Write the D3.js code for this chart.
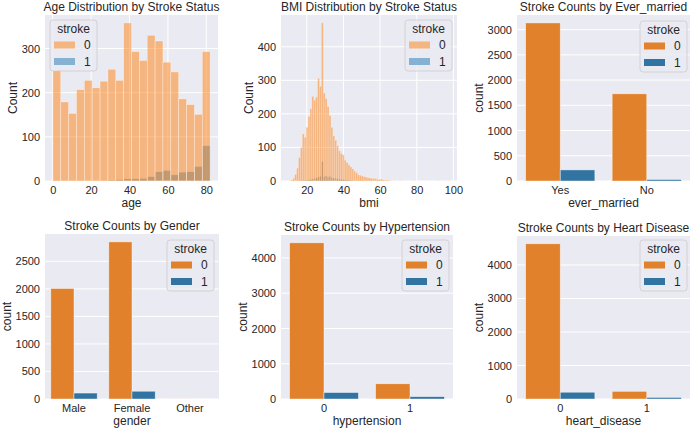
<!DOCTYPE html>
<html>
<head>
<meta charset="utf-8">
<script src="https://cdn.jsdelivr.net/npm/d3@7"></script>
<style>
  body { margin: 0; background: #fff; }
  text { font-family: "Liberation Sans", Arial, sans-serif; fill: #262626; }
</style>
</head>
<body>
<svg id="chart" width="692" height="431"></svg>
<script>
// ---- data ----
const strokeLevels = ["0", "1"]

// age histogram, 20 bins between min and max age
const ageMin = 0.08, ageMax = 82
const ageCounts0 = [250, 179, 153, 207, 228, 211, 226, 253, 228, 358, 293, 273, 330, 317, 269, 247, 186, 173, 151, 293]
const ageCounts1 = [1, 0, 0, 1, 0, 0, 1, 2, 3, 5, 5, 6, 10, 21, 24, 14, 20, 21, 33, 80]
const ageXTicks = [0, 20, 40, 60, 80]
const ageYTicks = [0, 100, 200, 300]

// bmi histogram, 84 bins between min and max bmi
const bmiMin = 10.3, bmiMax = 97.6
const bmiCounts0 = [1, 3, 8, 20, 38, 70, 100, 140, 130, 160, 192, 215, 252, 242, 250, 306, 282, 471, 262, 245,
  222, 195, 160, 135, 122, 105, 90, 82, 78, 62, 55, 48, 42, 36, 30, 25, 19, 17, 15, 13,
  12, 10, 9, 8, 7, 8, 5, 4, 6, 3, 2, 3, 2, 1, 0, 1, 0, 0, 1, 0,
  0, 0, 0, 0, 0, 1, 0, 0, 0, 0, 0, 0, 0, 0, 0, 0, 0, 0, 1, 0, 0, 0, 0, 1]
const bmiCounts1 = [0, 0, 0, 0, 0, 0, 1, 1, 2, 2, 3, 5, 6, 8, 10, 12, 14, 58, 13, 15,
  12, 14, 10, 9, 8, 7, 5, 5, 4, 3, 3, 2, 2, 1, 1, 0, 1, 0, 1, 0,
  0, 0, 1, 0, 0, 0, 1, 0, 0, 0, 0, 0, 0, 0, 0, 0, 0, 0, 0, 0,
  0, 0, 0, 0, 0, 0, 0, 0, 0, 0, 0, 0, 0, 0, 0, 0, 0, 0, 0, 0, 0, 0, 0, 0]
const bmiXTicks = [20, 40, 60, 80, 100]
const bmiYTicks = [0, 100, 200, 300, 400]

// count plots
const marriedCats = ["Yes", "No"]
const married0 = [3133, 1728]
const married1 = [220, 29]
const marriedYTicks = [0, 500, 1000, 1500, 2000, 2500, 3000]

const genderCats = ["Male", "Female", "Other"]
const gender0 = [2007, 2853, 1]
const gender1 = [108, 141, 0]
const genderYTicks = [0, 500, 1000, 1500, 2000, 2500]

const hyperCats = ["0", "1"]
const hyper0 = [4429, 432]
const hyper1 = [183, 66]
const hyperYTicks = [0, 1000, 2000, 3000, 4000]

const heartCats = ["0", "1"]
const heart0 = [4632, 229]
const heart1 = [202, 47]
const heartYTicks = [0, 1000, 2000, 3000, 4000]

// ---- drawing ----
const svg = d3.select("#chart")
const font = '"Liberation Sans", Arial, sans-serif'
const histColors = ["#ff7f0e", "#1f77b4"]
const barColors = ["#e1812c", "#3274a1"]

function frame(o) {
  let [l, t, r, b] = o.box
  let g = svg.append("g")

  g.append("rect")
    .attr("x", l).attr("y", t)
    .attr("width", r - l).attr("height", b - t)
    .attr("fill", "#eaeaf2")

  let y = d3.scaleLinear().domain([0, o.ymax * 1.05]).range([b, t])

  g.selectAll(".hgrid").data(o.yTicks).join("line")
    .attr("x1", l).attr("x2", r)
    .attr("y1", d => y(d)).attr("y2", d => y(d))
    .attr("stroke", "#fff").attr("stroke-width", 1)

  let yAxis = g.append("g")
    .attr("transform", `translate(${l},0)`)
    .call(d3.axisLeft(y).tickValues(o.yTicks).tickSize(0).tickPadding(5).tickFormat(d3.format("d")))
  yAxis.select(".domain").remove()
  yAxis.attr("font-size", 11).attr("font-family", font).attr("color", "#262626")

  let tickW = d3.max(yAxis.selectAll("text").nodes(), n => n.getComputedTextLength())

  g.append("text")
    .attr("transform", `translate(${l - 5 - tickW - 4.5},${(t + b) / 2}) rotate(-90)`)
    .attr("text-anchor", "middle")
    .attr("font-size", 12)
    .text(o.ylabel)

  g.append("text")
    .attr("x", (l + r) / 2).attr("y", b + 26)
    .attr("text-anchor", "middle")
    .attr("font-size", 12)
    .text(o.xlabel)

  g.append("text")
    .attr("x", (l + r) / 2).attr("y", t - 4)
    .attr("text-anchor", "middle")
    .attr("font-size", 12)
    .text(o.title)

  return {g, y, l, t, r, b}
}

function bottomAxis(f, x, ticks) {
  let ax = f.g.append("g")
    .attr("transform", `translate(0,${f.b})`)
    .call(d3.axisBottom(x).tickValues(ticks).tickSize(0).tickPadding(5))
  ax.select(".domain").remove()
  ax.attr("font-size", 11).attr("font-family", font).attr("color", "#262626")
}

function legend(g, lx, ly, colors, alpha) {
  let w = 47, h = 51
  g.append("rect")
    .attr("x", lx).attr("y", ly).attr("width", w).attr("height", h).attr("rx", 3)
    .attr("fill", "#eaeaf2").attr("fill-opacity", 0.8)
    .attr("stroke", "#cccccc").attr("stroke-width", 0.8)

  g.append("text")
    .attr("x", lx + w / 2).attr("y", ly + 13)
    .attr("text-anchor", "middle").attr("font-size", 12)
    .text("stroke")

  strokeLevels.forEach((lvl, i) => {
    let cy = ly + 25 + 16.5 * i
    g.append("rect")
      .attr("x", lx + 4).attr("y", cy - 3.5).attr("width", 21).attr("height", 7)
      .attr("fill", colors[i]).attr("fill-opacity", alpha)
    g.append("text")
      .attr("x", lx + 34).attr("y", cy + 4.3)
      .attr("font-size", 12)
      .text(lvl)
  })
}

function histPanel(o) {
  let f = frame(o)
  let span = o.max - o.min
  let x = d3.scaleLinear().domain([o.min - span * 0.05, o.max + span * 0.05]).range([f.l, f.r])

  f.g.selectAll(".vgrid").data(o.xTicks).join("line")
    .attr("x1", d => x(d)).attr("x2", d => x(d))
    .attr("y1", f.t).attr("y2", f.b)
    .attr("stroke", "#fff").attr("stroke-width", 1)

  let n = o.counts[0].length
  let w = span / n
  // second hue level first so level 0 sits on top, as seaborn layers it
  ;[1, 0].forEach(h => {
    let bins = o.counts[h].map((c, i) => ({c, x0: o.min + i * w, x1: o.min + (i + 1) * w})).filter(d => d.c > 0)
    f.g.selectAll(null).data(bins).join("rect")
      .attr("x", d => x(d.x0))
      .attr("width", d => x(d.x1) - x(d.x0))
      .attr("y", d => f.y(d.c))
      .attr("height", d => f.y(0) - f.y(d.c))
      .attr("fill", histColors[h]).attr("fill-opacity", 0.5)
      .attr("stroke", "#fff").attr("stroke-opacity", o.edge).attr("stroke-width", 0.6)
  })

  bottomAxis(f, x, o.xTicks)
  legend(f.g, o.legendAt[0], o.legendAt[1], histColors, 0.5)
}

function countPanel(o) {
  let f = frame(o)
  let x = d3.scaleBand().domain(o.cats).range([f.l, f.r])
  let bw = x.bandwidth()

  ;[0, 1].forEach(h => {
    f.g.selectAll(null).data(o.cats.map((c, i) => ({c, v: o.counts[h][i]}))).join("rect")
      .attr("x", d => x(d.c) + bw * 0.1 + h * bw * 0.4)
      .attr("width", bw * 0.4)
      .attr("y", d => f.y(d.v))
      .attr("height", d => f.y(0) - f.y(d.v))
      .attr("fill", barColors[h])
      .attr("stroke", "#fff").attr("stroke-opacity", 0.6).attr("stroke-width", 0.7)
  })

  bottomAxis(f, x, o.cats)
  legend(f.g, o.legendAt[0], o.legendAt[1], barColors, 1)
}

histPanel({
  box: [45, 15, 218, 181], title: "Age Distribution by Stroke Status", xlabel: "age", ylabel: "Count",
  min: ageMin, max: ageMax, counts: [ageCounts0, ageCounts1], ymax: d3.max(ageCounts0),
  xTicks: ageXTicks, yTicks: ageYTicks, legendAt: [50, 20], edge: 0.55
})

histPanel({
  box: [281, 15, 457, 181], title: "BMI Distribution by Stroke Status", xlabel: "bmi", ylabel: "Count",
  min: bmiMin, max: bmiMax, counts: [bmiCounts0, bmiCounts1], ymax: d3.max(bmiCounts0),
  xTicks: bmiXTicks, yTicks: bmiYTicks, legendAt: [405, 20], edge: 0.3
})

countPanel({
  box: [517, 15, 690, 181], title: "Stroke Counts by Ever_married", xlabel: "ever_married", ylabel: "count",
  cats: marriedCats, counts: [married0, married1], ymax: d3.max(married0),
  yTicks: marriedYTicks, legendAt: [640, 21]
})

countPanel({
  box: [45, 234, 219, 399], title: "Stroke Counts by Gender", xlabel: "gender", ylabel: "count",
  cats: genderCats, counts: [gender0, gender1], ymax: d3.max(gender0),
  yTicks: genderYTicks, legendAt: [167, 240]
})

countPanel({
  box: [281, 235, 453, 399], title: "Stroke Counts by Hypertension", xlabel: "hypertension", ylabel: "count",
  cats: hyperCats, counts: [hyper0, hyper1], ymax: d3.max(hyper0),
  yTicks: hyperYTicks, legendAt: [402, 240]
})

countPanel({
  box: [517, 236, 690, 399], title: "Stroke Counts by Heart Disease", xlabel: "heart_disease", ylabel: "count",
  cats: heartCats, counts: [heart0, heart1], ymax: d3.max(heart0),
  yTicks: heartYTicks, legendAt: [640, 240]
})
</script>
</body>
</html>
